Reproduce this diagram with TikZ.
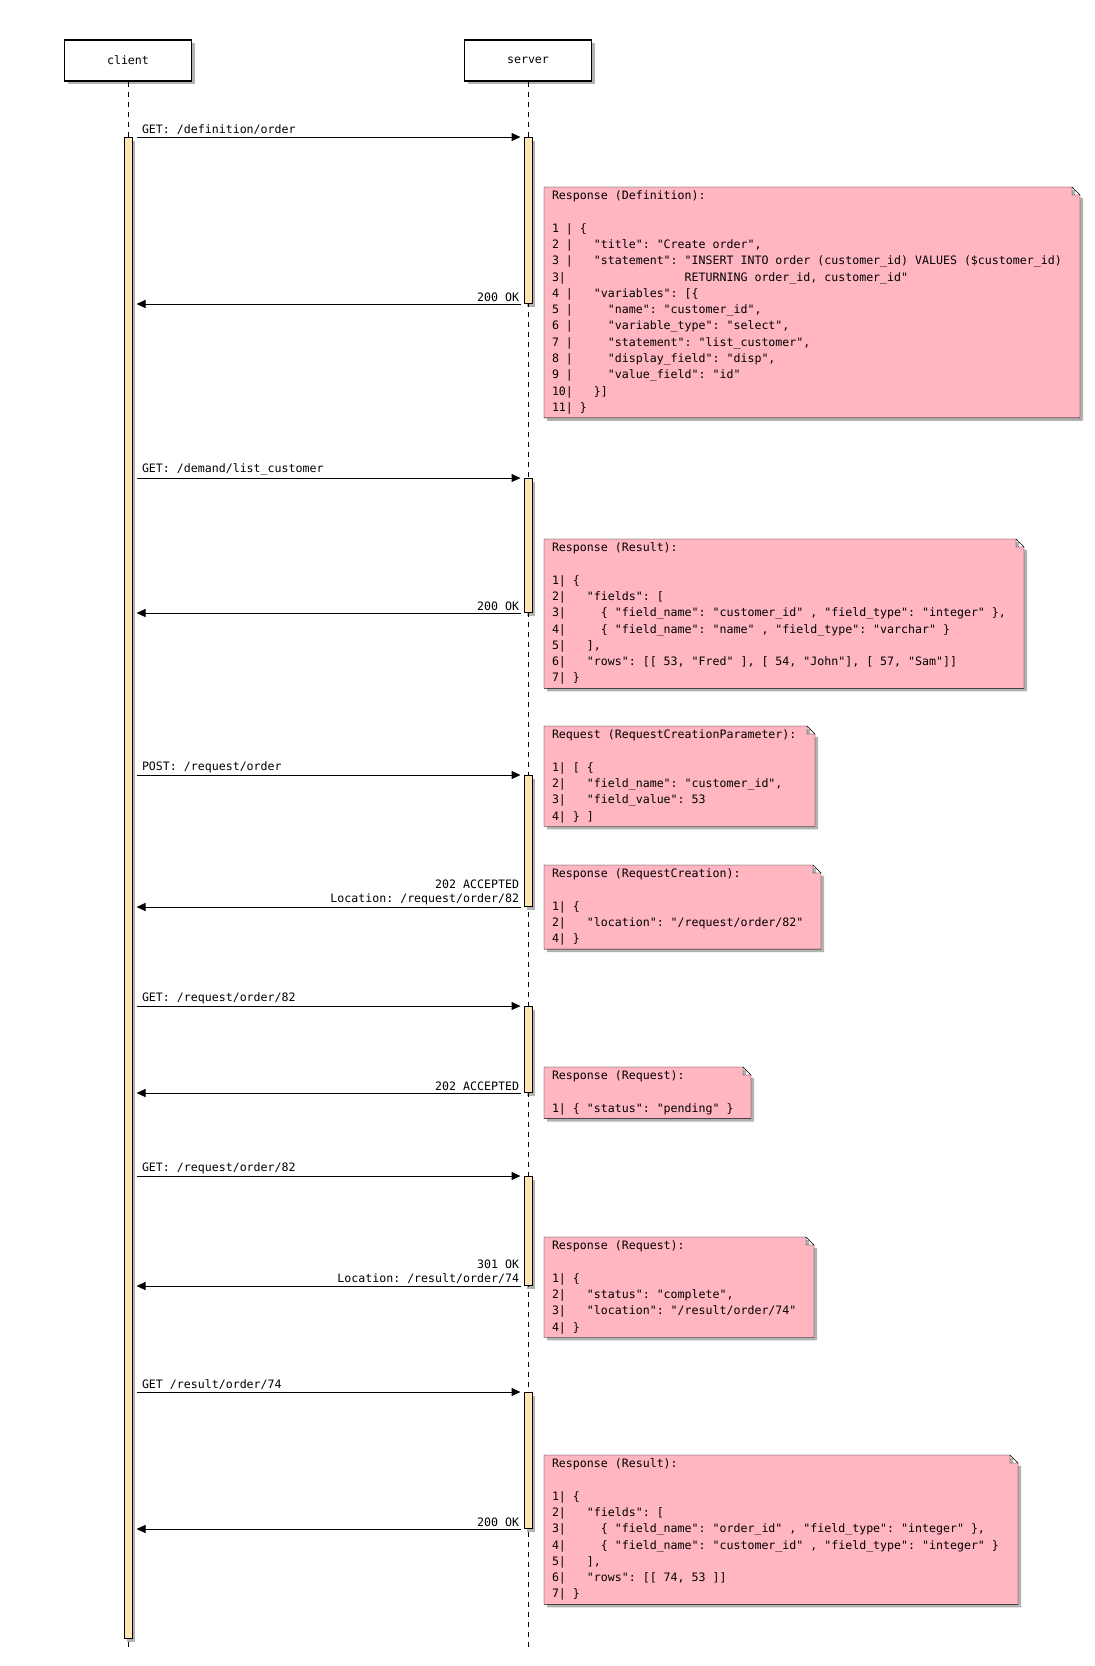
\documentclass[tikz,border=0pt]{standalone}
\usepackage{fontspec}
\setmonofont{DejaVu Sans Mono}
\usetikzlibrary{arrows.meta,shadows,backgrounds}
\definecolor{notepink}{HTML}{FFB6C1}
\definecolor{barfill}{HTML}{FFE4B5}

\begin{document}
\begin{tikzpicture}[x=1pt,y=-1pt,>={Triangle[length=9pt,width=8pt]},line width=1pt,
    font=\ttfamily\fontsize{11.6}{14}\selectfont,
    box shadow/.style={drop shadow={shadow xshift=3pt,shadow yshift=-3pt,fill=black,opacity=.3}},
    actor node/.style={draw,fill=white,box shadow,minimum width=127pt,minimum height=41pt,line width=1.3pt},
    bar node/.style={draw,fill=barfill,box shadow,minimum width=8pt,inner sep=0pt,anchor=north},
    note node/.style={anchor=north west,align=left,text width=#1,inner xsep=7.5pt,inner ysep=3.2pt,
                      font=\ttfamily\fontsize{11.6}{16.3}\selectfont,
                      execute at begin node={\spaceskip=0pt\xspaceskip=0pt}},
    life/.style={dash pattern=on 5pt off 5pt},
    fwd/.style={->,shorten <=4pt,shorten >=3pt},
    back/.style={->,shorten <=3pt,shorten >=4pt},
    fwd label/.style={at start,anchor=south west,xshift=7pt,inner sep=2pt},
    back label/.style={at start,anchor=south east,xshift=-2pt,inner sep=2pt,align=right}]

  \useasboundingbox (0,0) rectangle (1095,1666);

  % participants
  \node[actor node] (client) at (128,60.5) {client};
  \node[actor node] (server) at (528,60.5) {server};
  \coordinate (client end) at (128,1648);
  \coordinate (server end) at (528,1648);

  % activations
  \node[bar node,minimum height=1501pt] (cbar) at (128,137) {};
  \foreach \tp/\bt [count=\i] in {137/303,478/612,775/906,1006/1092,1176/1285,1392/1528}
    \node[bar node,minimum height=\bt-\tp] (sbar\i) at (528,\tp) {};

  % messages
  \path
    (cbar.east |- sbar1.north) edge[fwd] node[fwd label] {GET: /definition/order} (sbar1.north west)
    (sbar1.south west) edge[back] node[back label] {200 OK} (cbar.east |- sbar1.south)
    (cbar.east |- sbar2.north) edge[fwd] node[fwd label] {GET: /demand/list\_customer} (sbar2.north west)
    (sbar2.south west) edge[back] node[back label] {200 OK} (cbar.east |- sbar2.south)
    (cbar.east |- sbar3.north) edge[fwd] node[fwd label] {POST: /request/order} (sbar3.north west)
    (sbar3.south west) edge[back] node[back label] {202 ACCEPTED\\Location: /request/order/82} (cbar.east |- sbar3.south)
    (cbar.east |- sbar4.north) edge[fwd] node[fwd label] {GET: /request/order/82} (sbar4.north west)
    (sbar4.south west) edge[back] node[back label] {202 ACCEPTED} (cbar.east |- sbar4.south)
    (cbar.east |- sbar5.north) edge[fwd] node[fwd label] {GET: /request/order/82} (sbar5.north west)
    (sbar5.south west) edge[back] node[back label] {301 OK\\Location: /result/order/74} (cbar.east |- sbar5.south)
    (cbar.east |- sbar6.north) edge[fwd] node[fwd label] {GET /result/order/74} (sbar6.north west)
    (sbar6.south west) edge[back] node[back label] {200 OK} (cbar.east |- sbar6.south);

  % notes
  \node[note node=520pt] (note1) at (544,187) {Response (Definition):\\~\\1 | \{\\2 |~~~"title": "Create order",\\3 |~~~"statement": "INSERT INTO order (customer\_id) VALUES (\$customer\_id)\\3|~~~~~~~~~~~~~~~~~RETURNING order\_id, customer\_id"\\4 |~~~"variables": [\{\\5 |~~~~~"name": "customer\_id",\\6 |~~~~~"variable\_type": "select",\\7 |~~~~~"statement": "list\_customer",\\8 |~~~~~"display\_field": "disp",\\9 |~~~~~"value\_field": "id"\\10|~~~\}]\\11| \}};
  \node[note node=464pt] (note2) at (544,539) {Response (Result):\\~\\1| \{\\2|~~~"fields": [\\3|~~~~~\{ "field\_name": "customer\_id" , "field\_type": "integer" \},\\4|~~~~~\{ "field\_name": "name" , "field\_type": "varchar" \}\\5|~~~],\\6|~~~"rows": [[ 53, "Fred" ], [ 54, "John"], [ 57, "Sam"]]\\7| \}};
  \node[note node=255pt] (note3) at (544,726) {Request (RequestCreationParameter):\\~\\1| [ \{\\2|~~~"field\_name": "customer\_id",\\3|~~~"field\_value": 53\\4| \} ]};
  \node[note node=261pt] (note4) at (544,865) {Response (RequestCreation):\\~\\1| \{\\2|~~~"location": "/request/order/82"\\4| \}};
  \node[note node=191pt] (note5) at (544,1067) {Response (Request):\\~\\1| \{ "status": "pending" \}};
  \node[note node=254pt] (note6) at (544,1237) {Response (Request):\\~\\1| \{\\2|~~~"status": "complete",\\3|~~~"location": "/result/order/74"\\4| \}};
  \node[note node=458pt] (note7) at (544,1455) {Response (Result):\\~\\1| \{\\2|~~~"fields": [\\3|~~~~~\{ "field\_name": "order\_id" , "field\_type": "integer" \},\\4|~~~~~\{ "field\_name": "customer\_id" , "field\_type": "integer" \}\\5|~~~],\\6|~~~"rows": [[ 74, 53 ]]\\7| \}};

  \begin{pgfonlayer}{background}
    \draw[life] (client.south) -- (client end);
    \draw[life] (server.south) -- (server end);
    % folded corners
    \foreach \i in {1,...,7}
      \draw[fill=notepink,box shadow] (note\i.north west) -- ([xshift=-8pt]note\i.north east)
        -- ([yshift=-8pt]note\i.north east) -- (note\i.south east) -- (note\i.south west) -- cycle
        ([xshift=-8pt]note\i.north east) |- ([yshift=-8pt]note\i.north east);
  \end{pgfonlayer}
\end{tikzpicture}
\end{document}
